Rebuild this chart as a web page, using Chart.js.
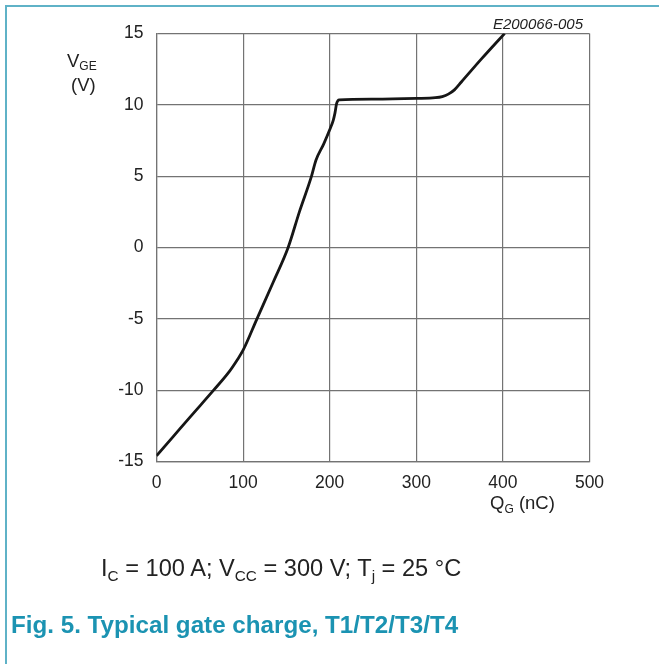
<!DOCTYPE html>
<html>
<head>
<meta charset="utf-8">
<script src="https://cdn.jsdelivr.net/npm/chart.js@4"></script>
<style>
  html,body{margin:0;padding:0;background:#fff;}
  #wrap{position:relative;width:659px;height:664px;overflow:hidden;font-family:"Liberation Sans",Arial,sans-serif;color:#222;}
  #frame{position:absolute;left:5px;top:5px;width:700px;height:700px;border-top:2px solid #5fb2c7;border-left:2px solid #5fb2c7;}
  canvas{position:absolute;left:0;top:0;}
  .t{position:absolute;line-height:1;white-space:nowrap;}
  .sub{font-size:65%;position:relative;top:0.3em;}
</style>
</head>
<body>
<div id="wrap">
  <div id="frame"></div>
  <canvas id="c" width="659" height="664"></canvas>
  <div class="t" style="left:67px;top:51.5px;font-size:18.5px;">V<span class="sub">GE</span></div>
  <div class="t" style="left:71px;top:75.5px;font-size:18.5px;">(V)</div>
  <div class="t" style="left:490px;top:494px;font-size:18.5px;">Q<span class="sub">G</span> (nC)</div>
  <div class="t" style="right:76px;top:15.5px;font-size:15px;font-style:italic;">E200066-005</div>
  <div class="t" style="left:101px;top:557px;font-size:23.6px;">I<span class="sub">C</span> = 100 A; V<span class="sub">CC</span> = 300 V; T<span class="sub">j</span> = 25 °C</div>
  <div class="t" style="left:11px;top:612.5px;font-size:24.2px;font-weight:bold;color:#1b93b2;">Fig. 5. Typical gate charge, T1/T2/T3/T4</div>
</div>
<script>
// Data
const qg  = [0, 20, 40, 66, 84, 93, 100, 116, 135, 152, 165, 179, 184, 193, 200, 204, 206, 208, 211, 250, 300, 322, 330, 337, 344, 352, 375, 402];
const vge = [-14.6, -13.2, -11.8, -10, -8.7, -7.9, -7.2, -5, -2.4, 0, 2.5, 5, 6.1, 7.25, 8.25, 8.9, 9.4, 10.1, 10.35, 10.4, 10.45, 10.5, 10.58, 10.75, 11.05, 11.6, 13.2, 15];
const xTicks = [0, 100, 200, 300, 400, 500];
const yTicks = [-15, -10, -5, 0, 5, 10, 15];

const points = qg.map((x, i) => ({x: x, y: vge[i]}));
const gridColor = '#737373';
const tickFont = {family: '"Liberation Sans", Arial, sans-serif', size: 17.5};

new Chart(document.getElementById('c'), {
  type: 'line',
  data: {
    datasets: [{
      data: points,
      borderColor: '#161616',
      borderWidth: 2.8,
      pointRadius: 0,
      fill: false,
      cubicInterpolationMode: 'monotone'
    }]
  },
  options: {
    responsive: false,
    devicePixelRatio: 1,
    animation: false,
    events: [],
    layout: {padding: {left: 0, top: 33.5, right: 69.5, bottom: 162.5}},
    plugins: {legend: {display: false}, tooltip: {enabled: false}},
    scales: {
      x: {
        type: 'linear', min: 0, max: 500,
        afterBuildTicks: s => { s.ticks = xTicks.map(v => ({value: v})); },
        afterFit: s => { s.height = 40; },
        grid: {color: gridColor, lineWidth: 1.2, drawTicks: false},
        border: {color: gridColor, width: 1.2},
        ticks: {font: tickFont, color: '#222', padding: 11, maxRotation: 0}
      },
      y: {
        type: 'linear', min: -15, max: 15,
        afterBuildTicks: s => { s.ticks = yTicks.map(v => ({value: v})); },
        afterFit: s => { s.width = 156.5; },
        grid: {color: gridColor, lineWidth: 1.2, drawTicks: false},
        border: {color: gridColor, width: 1.2},
        ticks: {font: tickFont, color: '#222', padding: 13}
      }
    }
  }
});
</script>
</body>
</html>
